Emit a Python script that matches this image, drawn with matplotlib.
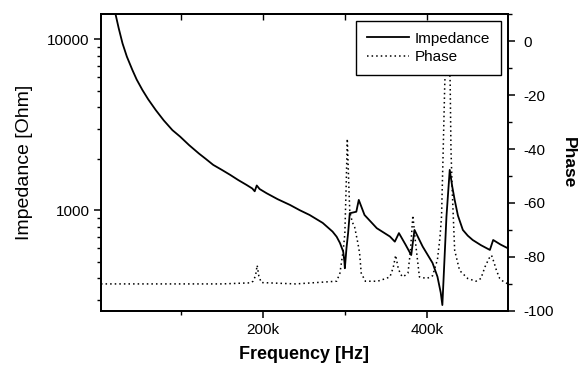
import numpy as np
import matplotlib
matplotlib.use("Agg")
import matplotlib.pyplot as plt
from matplotlib.ticker import MultipleLocator, LogLocator, FuncFormatter, NullFormatter

plt.rcParams['font.family'] = ['Liberation Sans', 'DejaVu Sans']
plt.rcParams['axes.unicode_minus'] = False

# impedance curve, frequency in kHz, value in Ohm
imp_freq_khz = [16, 20, 24, 28.7, 34, 40.8, 46, 53, 60, 69.3, 79, 89.6, 99, 110, 122, 130, 139.4,
                150, 160, 170, 180, 187, 190, 192.5, 196, 204.5, 218, 233, 245, 257, 273, 285,
                290, 294, 298, 299.5, 300, 302, 304, 306, 314, 317, 324, 339, 355, 361, 366,
                374, 381, 385, 395, 407, 413, 417, 419, 424, 428, 431, 434, 438, 444, 450, 456,
                466, 477, 481, 490, 499]
imp_ohm = [18000, 14100, 11600, 9440, 7900, 6590, 5800, 5040, 4450, 3846, 3350, 2937, 2692, 2400,
           2143, 2000, 1840, 1720, 1610, 1500, 1406, 1340, 1290, 1395, 1330, 1257, 1160, 1074,
           1000, 938, 843, 750, 700, 644, 573, 500, 458, 600, 736, 960, 980, 1149, 938, 785, 702,
           655, 735, 630, 547, 767, 613, 492, 409, 330, 279, 918, 1721, 1380, 1150, 930, 767,
           710, 670, 625, 586, 670, 630, 599]

# phase curve, frequency in kHz, phase in degrees
phase_freq_khz = [2.4, 150, 185, 188, 191, 193, 195, 198, 240, 290, 294, 298, 300, 301.5, 303,
                  305, 306, 309, 312, 316, 318, 320, 325, 340, 350, 355, 359, 362, 365, 368,
                  371, 377, 380, 383, 386, 391, 400, 407, 413, 416, 418, 420, 422, 425.5,
                  428.5, 429.5, 431, 434, 440, 450, 460, 466, 471, 476, 479, 482, 485, 489,
                  493, 499]
phase_deg = [-90, -90, -89.6, -89, -87, -83.1, -87, -89.5, -90, -89, -86, -77.5, -71.4, -55, -36.2,
             -55, -63, -67, -69, -75, -78.6, -86, -89, -89, -88, -87.4, -84, -79.4, -84, -86.5,
             -87.4, -86, -78, -64.6, -74, -87.4, -88, -87, -81, -73, -65, -40.7, -15, 5,
             -15, -40, -55, -77.5, -85, -88, -89, -88, -83.7, -80.5, -79.4, -82, -85, -88,
             -89, -90]


def main():
    fig = plt.figure(figsize=(5.87, 3.71), dpi=100)
    ax = fig.add_axes([0.172, 0.162, 0.693, 0.800])
    ax2 = ax.twinx()

    f_imp = np.array(imp_freq_khz) * 1000
    f_ph = np.array(phase_freq_khz) * 1000

    l1, = ax.plot(f_imp, imp_ohm, color='black', lw=1.3, label='Impedance')
    l2, = ax2.plot(f_ph, phase_deg, color='black', lw=1.1, linestyle=(0, (1, 2)), label='Phase')

    ax.set_xlim(2400, 498800)
    ax.set_yscale('log')
    ax.set_ylim(258, 14000)
    ax2.set_ylim(-100, 10)

    ax.xaxis.set_major_locator(MultipleLocator(200000))
    ax.xaxis.set_minor_locator(MultipleLocator(100000))
    ax.xaxis.set_major_formatter(FuncFormatter(lambda x, p: f"{int(round(x / 1000))}k"))
    ax.yaxis.set_major_locator(LogLocator(base=10))
    ax.yaxis.set_minor_locator(LogLocator(base=10, subs=np.arange(2, 10)))
    ax.yaxis.set_major_formatter(FuncFormatter(lambda y, p: f"{int(round(y))}"))
    ax.yaxis.set_minor_formatter(NullFormatter())
    ax2.yaxis.set_major_locator(MultipleLocator(20))
    ax2.yaxis.set_minor_locator(MultipleLocator(10))

    for a in (ax, ax2):
        for s in a.spines.values():
            s.set_linewidth(1.3)
        a.tick_params(which='major', length=5, width=1.1, labelsize=11, direction='out')
        a.tick_params(which='minor', length=3, width=1.0, direction='out')
    ax.tick_params(axis='y', which='major', pad=3)
    ax.tick_params(axis='x', which='major', pad=4)
    ax2.tick_params(axis='y', which='major', pad=6)

    top = ax.secondary_xaxis('top')
    top.xaxis.set_major_locator(MultipleLocator(200000))
    top.xaxis.set_minor_locator(MultipleLocator(100000))
    top.tick_params(which='both', direction='in', labeltop=False, length=4, width=1.0)
    top.spines['top'].set_linewidth(1.3)

    ax.set_xlabel('Frequency [Hz]', fontsize=13, fontweight='bold', labelpad=6)
    ax.set_ylabel('Impedance [Ohm]', fontsize=14, labelpad=10)
    ax2.set_ylabel('Phase', fontsize=12.5, fontweight='bold', rotation=270, labelpad=16)

    leg = ax2.legend([l1, l2], ['Impedance', 'Phase'], loc='upper right', fontsize=11,
                     frameon=True, fancybox=False, edgecolor='black', framealpha=1,
                     handlelength=2.8, handletextpad=0.35, borderpad=0.7,
                     labelspacing=0.3, borderaxespad=0.45)
    leg.get_frame().set_linewidth(1.0)

    fig.savefig('out.png', dpi=100)


if __name__ == "__main__":
    main()
